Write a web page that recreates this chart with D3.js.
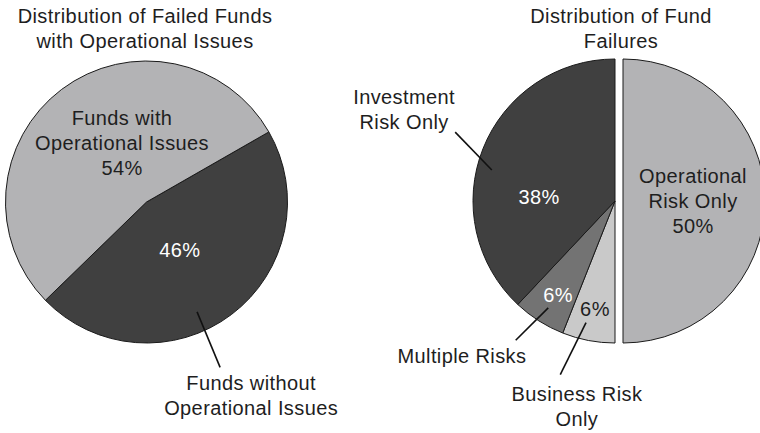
<!DOCTYPE html>
<html>
<head>
<meta charset="utf-8">
<script src="https://cdn.jsdelivr.net/npm/d3@7"></script>
<style>
  body { margin: 0; background: #fff; }
  svg text { font-family: "Liberation Sans", Arial, sans-serif; font-size: 20px; letter-spacing: 0.4px; fill: #1e1e1e; }
</style>
</head>
<body>
<script>
// data for the left pie
var leftTitle = ["Distribution of Failed Funds", "with Operational Issues"];
var leftNames = ["Funds without Operational Issues", "Funds with Operational Issues"];
var leftValues = [46, 54];

// data for the right pie
var rightTitle = ["Distribution of Fund", "Failures"];
var rightNames = ["Operational Risk Only", "Business Risk Only", "Multiple Risks", "Investment Risk Only"];
var rightValues = [50, 6, 6, 38];

// greys used for the slices
var leftColors = ["#404040", "#b3b3b5"];
var rightColors = ["#b3b3b5", "#c9c9c9", "#737373", "#404040"];

var width = 760, height = 433;
var lineH = 25;

var svg = d3.select("body")
  .append("svg")
   .attr("width", width)
   .attr("height", height);

var rad = function(deg) { return deg * Math.PI / 180; };

// writes a few lines of text centred on x, middle line at y
function multiText(g, lines, x, y, color) {
  var t = g.append("text")
    .attr("text-anchor", "middle")
    .style("fill", color || "#1e1e1e");
  var top = y - (lines.length - 1) * lineH / 2;
  lines.forEach(function(l, i) {
    t.append("tspan")
      .attr("x", x)
      .attr("y", top + i * lineH)
      .attr("dy", "0.35em")
      .text(l);
  });
}

// draws one pie chart with its labels and leader lines
function drawPie(opt) {
  var g = svg.append("g")
    .attr("transform", "translate(" + opt.cx + "," + opt.cy + ")");

  var pie = d3.pie().sort(null)
    .startAngle(rad(opt.start))
    .endAngle(rad(opt.start) + 2 * Math.PI);
  var arcs = pie(opt.values);
  var arc = d3.arc().innerRadius(0).outerRadius(opt.r);

  g.selectAll("path")
    .data(arcs)
    .enter()
    .append("path")
    .attr("d", arc)
    .attr("transform", function(d, i) {
      var off = opt.explode[i] || 0;
      var p = d3.pointRadial((d.startAngle + d.endAngle) / 2, off);
      return "translate(" + p[0] + "," + p[1] + ")";
    })
    .style("fill", function(d, i) { return opt.colors[i]; })
    .style("stroke", "#1a1a1a")
    .style("stroke-width", 1);

  // labels inside or outside the slices
  opt.labels.forEach(function(lb) {
    var p = d3.pointRadial(rad(lb.angle), lb.radius);
    multiText(g, lb.text, p[0], p[1], lb.color);
  });

  // leader lines
  opt.leaders.forEach(function(ld) {
    var a = d3.pointRadial(rad(ld[0]), ld[1]);
    var b = d3.pointRadial(rad(ld[2]), ld[3]);
    g.append("line")
      .attr("x1", a[0]).attr("y1", a[1])
      .attr("x2", b[0]).attr("y2", b[1])
      .style("stroke", "#111")
      .style("stroke-width", 1.6);
  });

  // title
  multiText(svg, opt.title, opt.titleX, 28);
}

var pct = function(v) { return v + "%"; };

drawPie({
  cx: 146.5, cy: 202, r: 141, start: 60.2,
  values: leftValues, colors: leftColors, explode: [0, 0],
  title: leftTitle, titleX: 145,
  labels: [
    {angle: 145, radius: 58, text: [pct(leftValues[0])], color: "#fff"},
    {angle: -22.5, radius: 64, text: ["Funds with", "Operational Issues", pct(leftValues[1])]},
    {angle: 151.6, radius: 220, text: ["Funds without", "Operational Issues"]}
  ],
  leaders: [[155.3, 121, 156, 181]]
});

drawPie({
  cx: 615, cy: 201, r: 142, start: 0,
  values: rightValues, colors: rightColors, explode: [8, 0, 0, 0],
  title: rightTitle, titleX: 621,
  labels: [
    {angle: 90, radius: 78, text: ["Operational", "Risk Only", pct(rightValues[0])]},
    {angle: 190.5, radius: 110, text: [pct(rightValues[1])]},
    {angle: 211.2, radius: 110, text: [pct(rightValues[2])], color: "#fff"},
    {angle: 273, radius: 76, text: [pct(rightValues[3])], color: "#fff"},
    {angle: 190.5, radius: 209, text: ["Business Risk", "Only"]},
    {angle: 224.6, radius: 218, text: ["Multiple Risks"]},
    {angle: 293.5, radius: 230, text: ["Investment", "Risk Only"]}
  ],
  leaders: [[193.4, 125, 197.5, 182], [212, 126, 215.5, 171], [284.1, 127, 293.3, 174]]
});
</script>
</body>
</html>
